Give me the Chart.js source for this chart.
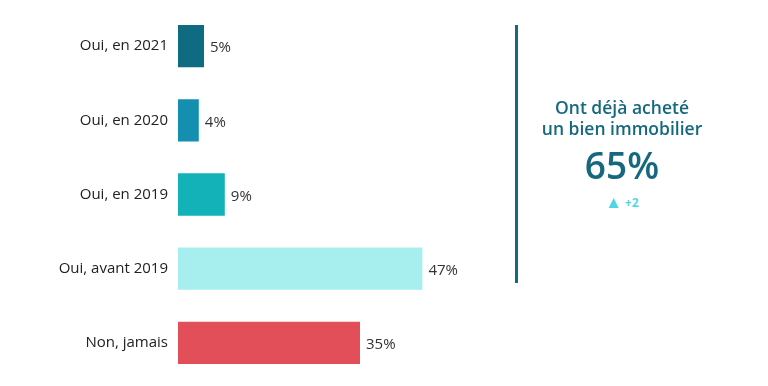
<!DOCTYPE html>
<html lang="fr">
<head>
<meta charset="utf-8">
<script src="https://cdn.jsdelivr.net/npm/chart.js@4"></script>
<style>
  html, body { margin: 0; padding: 0; background: #fff; }
  .wrap { position: relative; width: 768px; height: 386px; }
  #achatChart { position: absolute; left: 0; top: 0; }
  .divider { position: absolute; left: 515px; top: 25px; width: 3px; height: 258px; background: #136a80; }
  .kpi { position: absolute; left: 520px; width: 204px; top: 97px; text-align: center; font-family: "Open Sans", sans-serif; color: #16687f; }
  .kpi .lbl { font-size: 17.5px; font-weight: 600; line-height: 21px; }
  .kpi .val { font-size: 37px; font-weight: 600; line-height: 42px; margin-top: 5px; }
  .kpi .evo { font-size: 12px; font-weight: 700; line-height: 16px; color: #4fd6e4; margin-top: 8px; }
  .kpi .evo .tri { font-size: 17px; margin-right: 3px; vertical-align: -1px; }
</style>
</head>
<body>
<div class="wrap">
  <canvas id="achatChart" width="768" height="386"></canvas>
  <div class="divider"></div>
  <div class="kpi">
    <div class="lbl">Ont déjà acheté<br>un bien immobilier</div>
    <div class="val">65%</div>
    <div class="evo"><span class="tri">▲</span>+2</div>
  </div>
</div>
<script>
'use strict';

// ============================================================
// DATA
// ============================================================
const categories = ['Oui, en 2021', 'Oui, en 2020', 'Oui, en 2019', 'Oui, avant 2019', 'Non, jamais'];
const values     = [5, 4, 9, 47, 35];
const barColors  = ['#0f6b81', '#148fb0', '#13b2b8', '#a7eeee', '#e34f58'];

// ============================================================
// VALUE LABELS PLUGIN
// ============================================================
const valueLabels = {
  id: 'valueLabels',
  afterDatasetsDraw(chart) {
    const ctx = chart.ctx;
    const meta = chart.getDatasetMeta(0);
    ctx.save();
    ctx.font = '15px "Open Sans", sans-serif';
    ctx.fillStyle = '#333';
    ctx.textAlign = 'left';
    ctx.textBaseline = 'middle';
    meta.data.forEach((bar, i) => {
      ctx.fillText(values[i] + '%', bar.x + 6, bar.y + 2);
    });
    ctx.restore();
  }
};

// ============================================================
// CHART
// ============================================================
new Chart(document.getElementById('achatChart'), {
  type: 'bar',
  data: {
    labels: categories,
    datasets: [{
      data: values,
      backgroundColor: barColors,
      borderWidth: 0,
      barPercentage: 0.57,
      categoryPercentage: 1,
    }]
  },
  options: {
    indexAxis: 'y',
    responsive: false,
    animation: false,
    layout: { padding: { top: 9, bottom: 6, right: 70, left: 0 } },
    plugins: { legend: { display: false }, tooltip: { enabled: false } },
    scales: {
      x: { display: false, min: 0, max: 100 },
      y: {
        grid: { display: false, drawTicks: false },
        border: { display: false },
        afterFit: scale => {
          scale.width = 178;
          // the tick labels should not push the plot area inwards
          scale.paddingTop = 0;
          scale.paddingBottom = 0;
        },
        ticks: {
          padding: 10,
          color: '#222',
          font: { family: '"Open Sans", sans-serif', size: 15 },
        }
      }
    }
  },
  plugins: [valueLabels]
});
</script>
</body>
</html>
